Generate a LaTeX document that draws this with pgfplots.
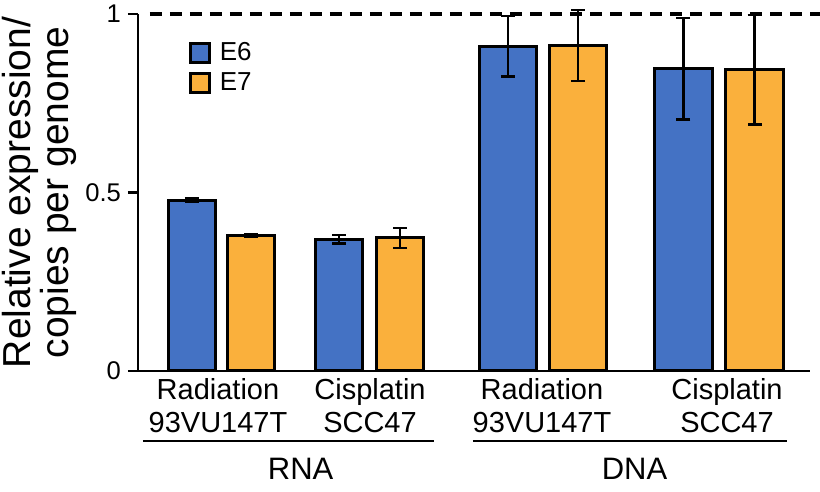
\documentclass[border=0pt]{standalone}
\usepackage{fontspec}
\setmainfont{Liberation Sans}
\usepackage{pgfplots}
\pgfplotsset{compat=1.18}
\definecolor{eSix}{HTML}{4472C4}
\definecolor{eSeven}{HTML}{FAB03C}
\pgfplotsset{
  mybar/.style={ybar, bar shift=0pt, draw=black, line width=1.5pt,
    error bars/y dir=both, error bars/y explicit,
    error bars/error bar style={line width=1.2pt, black},
    error bars/error mark options={rotate=90, line width=1.2pt, black, mark size=3.5pt}},
}
\begin{document}
\begin{tikzpicture}
\begin{axis}[
  scale only axis, width=336pt, height=178.5pt,
  xmin=138, xmax=810, ymin=0, ymax=1,
  axis x line=bottom, axis y line=left,
  axis line style={-, line width=1.2pt, black},
  xtick=\empty,
  ytick={0,0.5,1}, yticklabels={0,0.5,1},
  tick align=outside, major tick length=5pt,
  tick style={line width=1.2pt, black},
  yticklabel style={font=\fontsize{12.8}{15}\selectfont},
  ylabel={Relative expression/\\copies per genome},
  ylabel style={align=center, font=\fontsize{19.5}{16}\selectfont, inner sep=0pt,
    at={(axis description cs:-0.0905,0.5)}, anchor=south},
  clip=false,
  legend style={at={(axis cs:189,0.93)}, anchor=north west, draw=none, fill=none,
    inner sep=0pt, row sep=1.5pt, font=\fontsize{13}{14}\selectfont,
    nodes={inner sep=1.5pt}},
  legend cell align=left,
  legend image code/.code={\draw[#1, line width=1.5pt] (0pt,-4.75pt) rectangle (9.5pt,4.75pt);
    \path[draw=none, fill=none] (0pt,0pt) -- (13pt,0pt);},
]
% RNA bars
\addplot[mybar, bar width=47.5, fill=eSix]
  coordinates {(191.8,0.478) +- (0,0.005) (339.2,0.369) +- (0,0.012)};
\addlegendentry{E6}
\addplot[mybar, bar width=47.5, fill=eSeven]
  coordinates {(251.2,0.380) +- (0,0.004) (400.2,0.373) +- (0,0.028)};
\addlegendentry{E7}
% DNA bars
\addplot[mybar, bar width=57.5, fill=eSix, forget plot]
  coordinates {(508,0.910) +- (0,0.085) (683.3,0.847) +- (0,0.142)};
\addplot[mybar, bar width=57.5, fill=eSeven, forget plot]
  coordinates {(578,0.912) +- (0,0.100) (754.5,0.844) +- (0,0.153)};
% dashed reference line
\draw[line width=1.6pt, dash pattern=on 6pt off 4pt] (axis cs:150,1) -- (axis cs:820,1);
% category labels
\begin{scope}[font=\fontsize{14.5}{16}\selectfont]
\node[anchor=base] at (axis cs:218,-0.0812) {Radiation};
\node[anchor=base] at (axis cs:218,-0.1709) {93VU147T};
\node[anchor=base] at (axis cs:370,-0.0812) {Cisplatin};
\node[anchor=base] at (axis cs:370,-0.1709) {SCC47};
\node[anchor=base] at (axis cs:542,-0.0812) {Radiation};
\node[anchor=base] at (axis cs:542,-0.1709) {93VU147T};
\node[anchor=base] at (axis cs:727,-0.0812) {Cisplatin};
\node[anchor=base] at (axis cs:727,-0.1709) {SCC47};
\end{scope}
\draw[line width=1.3pt] (axis cs:143,-0.196) -- (axis cs:434,-0.196);
\draw[line width=1.3pt] (axis cs:473,-0.196) -- (axis cs:787,-0.196);
\node[anchor=base, font=\fontsize{15.5}{16}\selectfont] at (axis cs:300.7,-0.3053) {RNA};
\node[anchor=base, font=\fontsize{15.5}{16}\selectfont] at (axis cs:634.5,-0.3053) {DNA};
\coordinate (bbSW) at (axis cs:0,-0.33894);
\coordinate (bbNE) at (axis cs:820,1.03922);
\end{axis}
\pgfresetboundingbox
\path[use as bounding box] (bbSW) rectangle (bbNE);
\end{tikzpicture}
\end{document}
